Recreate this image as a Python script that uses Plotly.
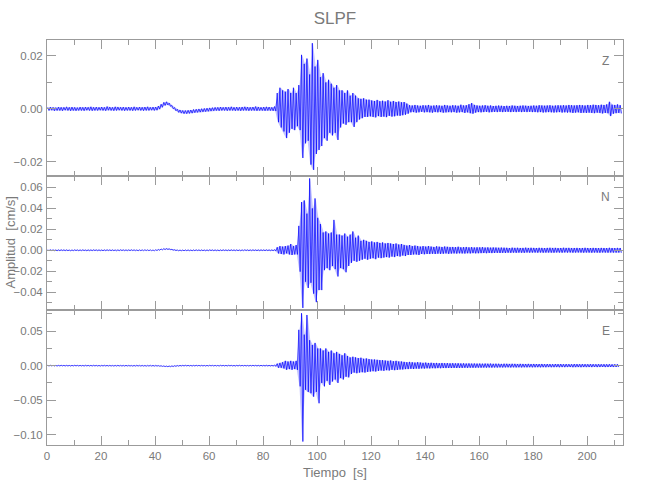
import plotly.graph_objects as go
from plotly.subplots import make_subplots

# Amplitudes are stored in units of 1e-3 cm/s, one max/min pair per 1-s bin
SCALE = 1e-3
title_text = "SLPF"
components = ["Z", "N", "E"]

z_upper = [
    0.6, 0.7, 0.6, 0.5, 0.7, 0.6, 0.6, 0.8, 0.6, 0.7,
    0.6, 0.5, 0.7, 0.6, 0.7, 0.6, 0.8, 0.6, 0.7, 0.6,
    0.7, 0.6, 0.9, 0.7, 0.6, 0.8, 0.7, 0.6, 0.7, 0.6,
    0.7, 0.6, 0.8, 0.6, 0.7, 0.6, 0.7, 0.8, 0.6, 0.7,
    0.7, 1.1, 1.8, 2.5, 2.7, 2.2, 1.3, 0.5, -0.1, -0.4,
    -0.6, -0.6, -0.5, -0.4, -0.2, -0.1, 0.0, 0.1, 0.2, 0.3,
    0.4, 0.5, 0.6, 0.6, 0.7, 0.6, 0.7, 0.6, 0.8, 0.6,
    0.7, 0.6, 0.7, 0.8, 0.7, 0.6, 0.7, 0.9, 0.7, 0.6,
    0.7, 0.8, 0.7, 0.6, 0.9, 6.0, 8.0, 7.0, 6.5, 7.5,
    6.0, 8.0, 6.0, 9.0, 20.4, 17.0, 19.0, 13.0, 24.8, 16.0,
    18.5, 12.0, 13.5, 10.0, 11.0, 9.5, 8.0, 9.0, 7.0, 7.0,
    6.0, 7.0, 5.0, 6.0, 5.0, 4.0, 3.8, 4.0, 3.5, 3.5,
    3.2, 3.0, 3.4, 2.9, 3.1, 2.8, 3.3, 2.7, 3.0, 2.6,
    2.8, 2.5, 2.6, 2.0, 1.4, 1.3, 1.5, 1.3, 1.2, 1.4,
    1.3, 1.5, 1.2, 1.3, 1.4, 1.3, 1.2, 1.5, 1.3, 1.2,
    1.4, 1.3, 1.2, 1.6, 1.3, 1.4, 1.8, 2.2, 1.5, 1.3,
    1.2, 1.3, 1.4, 1.2, 1.3, 1.1, 1.2, 1.3, 1.2, 1.1,
    1.2, 1.1, 1.3, 1.2, 1.1, 1.2, 1.3, 1.2, 1.1, 1.2,
    1.3, 1.2, 1.4, 1.3, 1.2, 1.3, 1.4, 1.2, 1.3, 1.4,
    1.3, 1.4, 1.3, 1.5, 1.4, 1.3, 1.4, 1.5, 1.4, 1.3,
    1.5, 1.4, 1.6, 1.5, 1.4, 1.6, 1.5, 1.7, 2.7, 1.6,
    1.5, 1.7, 1.4,
]
z_lower = [
    -0.6, -0.5, -0.7, -0.6, -0.6, -0.7, -0.5, -0.6, -0.7, -0.6,
    -0.7, -0.6, -0.6, -0.7, -0.5, -0.6, -0.7, -0.6, -0.6, -0.5,
    -0.6, -0.7, -0.5, -0.6, -0.7, -0.6, -0.5, -0.6, -0.7, -0.6,
    -0.6, -0.7, -0.6, -0.5, -0.6, -0.7, -0.6, -0.6, -0.5, -0.6,
    -0.5, -0.1, 0.6, 1.3, 1.5, 1.0, 0.1, -0.7, -1.3, -1.6,
    -1.8, -1.8, -1.7, -1.6, -1.4, -1.3, -1.2, -1.1, -1.0, -0.9,
    -0.8, -0.7, -0.6, -0.7, -0.6, -0.6, -0.7, -0.6, -0.6, -0.7,
    -0.6, -0.7, -0.6, -0.6, -0.7, -0.6, -0.6, -0.7, -0.6, -0.6,
    -0.7, -0.6, -0.6, -0.7, -0.8, -5.0, -7.0, -8.5, -11.0, -9.0,
    -7.5, -8.0, -6.5, -8.0, -18.5, -13.0, -12.0, -21.0, -23.0, -17.0,
    -15.5, -14.0, -11.0, -12.0, -9.0, -10.0, -9.0, -11.7, -7.0, -5.5,
    -6.0, -5.0, -5.0, -6.8, -5.0, -4.0, -3.5, -3.0, -3.0, -2.8,
    -3.0, -3.2, -2.7, -3.0, -2.9, -3.1, -2.6, -2.9, -2.8, -2.5,
    -2.6, -2.4, -2.2, -1.8, -1.3, -1.2, -1.4, -1.3, -1.1, -1.3,
    -1.2, -1.3, -1.4, -1.2, -1.3, -1.2, -1.4, -1.3, -1.2, -1.3,
    -1.2, -1.4, -1.3, -1.2, -1.5, -1.3, -1.6, -1.8, -1.4, -1.2,
    -1.3, -1.2, -1.1, -1.3, -1.2, -1.1, -1.2, -1.1, -1.2, -1.1,
    -1.1, -1.2, -1.1, -1.2, -1.1, -1.2, -1.1, -1.2, -1.1, -1.2,
    -1.2, -1.3, -1.2, -1.4, -1.3, -1.2, -1.3, -1.4, -1.3, -1.2,
    -1.4, -1.3, -1.4, -1.3, -1.5, -1.4, -1.3, -1.5, -1.4, -1.5,
    -1.4, -1.5, -1.6, -1.4, -1.5, -1.7, -1.5, -1.6, -2.7, -1.8,
    -1.6, -1.5, -1.7,
]

n_upper = [
    0.4, 0.5, 0.4, 0.3, 0.4, 0.5, 0.4, 0.4, 0.3, 0.4,
    0.5, 0.4, 0.4, 0.5, 0.3, 0.4, 0.4, 0.5, 0.4, 0.4,
    0.3, 0.4, 0.5, 0.4, 0.4, 0.3, 0.4, 0.5, 0.4, 0.4,
    0.4, 0.5, 0.4, 0.3, 0.4, 0.4, 0.5, 0.4, 0.4, 0.3,
    0.5, 0.8, 1.3, 1.6, 1.7, 1.4, 0.9, 0.5, 0.3, 0.3,
    0.3, 0.4, 0.4, 0.3, 0.4, 0.5, 0.4, 0.4, 0.3, 0.4,
    0.5, 0.4, 0.4, 0.3, 0.4, 0.5, 0.4, 0.4, 0.5, 0.4,
    0.4, 0.3, 0.4, 0.5, 0.4, 0.4, 0.5, 0.4, 0.4, 0.5,
    0.4, 0.5, 0.4, 0.4, 0.6, 3.0, 4.0, 3.5, 4.0, 4.5,
    6.0, 4.0, 5.0, 23.3, 46.0, 47.6, 35.0, 68.6, 40.0, 49.5,
    31.0, 25.0, 17.0, 18.0, 16.0, 17.0, 29.0, 15.0, 15.0, 14.0,
    16.0, 13.0, 15.0, 18.0, 12.0, 14.0, 9.0, 10.0, 9.0, 8.0,
    8.5, 7.5, 8.0, 7.0, 7.5, 6.5, 7.0, 6.5, 6.0, 6.5,
    5.5, 6.0, 5.0, 4.5, 5.0, 4.0, 4.5, 4.0, 3.5, 4.0,
    3.5, 4.0, 3.5, 3.2, 3.8, 3.4, 3.2, 3.6, 3.3, 3.0,
    3.2, 3.0, 3.4, 2.8, 3.0, 3.2, 2.8, 3.0, 2.7, 2.9,
    2.8, 3.0, 2.6, 2.8, 2.5, 2.7, 2.6, 2.4, 2.6, 2.5,
    2.4, 2.2, 2.5, 2.3, 2.4, 2.2, 2.3, 2.5, 2.2, 2.4,
    2.3, 2.2, 2.4, 2.3, 2.1, 2.3, 2.4, 2.2, 2.3, 2.1,
    2.2, 2.4, 2.2, 2.3, 2.1, 2.2, 2.3, 2.1, 2.2, 2.4,
    2.2, 2.1, 2.3, 2.2, 2.1, 2.3, 2.2, 2.1, 2.4, 2.2,
    2.1, 2.3, 2.2,
]
n_lower = [
    -0.4, -0.3, -0.4, -0.5, -0.4, -0.3, -0.4, -0.4, -0.5, -0.4,
    -0.3, -0.4, -0.4, -0.3, -0.5, -0.4, -0.4, -0.3, -0.4, -0.4,
    -0.5, -0.4, -0.3, -0.4, -0.4, -0.5, -0.4, -0.3, -0.4, -0.4,
    -0.4, -0.3, -0.4, -0.5, -0.4, -0.4, -0.3, -0.4, -0.4, -0.5,
    -0.3, 0.0, 0.4, 0.7, 0.8, 0.6, 0.1, -0.3, -0.5, -0.5,
    -0.5, -0.4, -0.4, -0.5, -0.4, -0.3, -0.4, -0.4, -0.5, -0.4,
    -0.3, -0.4, -0.4, -0.5, -0.4, -0.3, -0.4, -0.4, -0.3, -0.4,
    -0.4, -0.5, -0.4, -0.3, -0.4, -0.4, -0.3, -0.4, -0.4, -0.3,
    -0.4, -0.3, -0.4, -0.4, -0.6, -3.0, -3.5, -4.0, -3.0, -4.0,
    -4.5, -4.0, -4.0, -20.4, -55.0, -30.0, -36.0, -31.0, -41.4, -49.5,
    -38.0, -38.0, -19.0, -17.0, -19.0, -15.0, -18.0, -25.0, -17.0, -18.0,
    -21.0, -15.0, -12.0, -10.0, -11.0, -10.0, -9.0, -8.0, -9.0, -8.0,
    -7.5, -8.5, -7.0, -7.5, -7.0, -6.5, -7.0, -6.0, -6.5, -5.5,
    -6.0, -5.0, -5.5, -4.5, -4.5, -4.0, -4.0, -4.5, -3.5, -3.8,
    -3.5, -3.6, -3.3, -3.5, -3.2, -3.4, -3.3, -3.0, -3.4, -3.1,
    -3.0, -3.2, -2.9, -3.0, -3.1, -2.8, -3.0, -2.7, -2.9, -2.8,
    -2.7, -2.6, -2.8, -2.5, -2.7, -2.5, -2.4, -2.6, -2.4, -2.5,
    -2.3, -2.4, -2.2, -2.4, -2.2, -2.3, -2.4, -2.1, -2.3, -2.2,
    -2.2, -2.3, -2.1, -2.3, -2.2, -2.1, -2.2, -2.3, -2.1, -2.2,
    -2.3, -2.1, -2.2, -2.1, -2.3, -2.2, -2.1, -2.2, -2.3, -2.1,
    -2.2, -2.3, -2.1, -2.2, -2.3, -2.1, -2.2, -2.3, -2.1, -2.2,
    -2.2, -2.1, -2.3,
]

e_upper = [
    0.5, 0.6, 0.5, 0.4, 0.5, 0.6, 0.5, 0.5, 0.4, 0.5,
    0.6, 0.5, 0.5, 0.4, 0.6, 0.5, 0.5, 0.6, 0.5, 0.4,
    0.5, 0.6, 0.5, 0.5, 0.4, 0.5, 0.6, 0.5, 0.5, 0.6,
    0.5, 0.4, 0.5, 0.6, 0.5, 0.5, 0.4, 0.5, 0.6, 0.5,
    0.5, 0.3, 0.0, -0.3, -0.5, -0.5, -0.3, 0.0, 0.3, 0.5,
    0.5, 0.6, 0.5, 0.4, 0.5, 0.6, 0.5, 0.5, 0.4, 0.5,
    0.6, 0.5, 0.5, 0.4, 0.6, 0.5, 0.5, 0.6, 0.5, 0.4,
    0.5, 0.6, 0.5, 0.5, 0.4, 0.5, 0.6, 0.5, 0.5, 0.6,
    0.5, 0.6, 0.5, 0.5, 0.8, 3.0, 4.0, 5.0, 7.0, 6.0,
    7.0, 6.0, 7.0, 52.0, 76.0, 45.0, 73.5, 37.0, 30.0, 33.0,
    25.0, 25.0, 22.0, 25.0, 20.0, 22.0, 18.0, 20.0, 17.0, 15.0,
    18.0, 14.0, 12.0, 13.0, 12.0, 11.0, 11.5, 10.0, 10.5, 9.5,
    9.0, 9.0, 8.5, 8.0, 8.0, 7.5, 7.0, 7.5, 6.5, 7.0,
    6.0, 6.0, 5.5, 5.0, 5.5, 5.0, 4.5, 5.0, 4.5, 4.0,
    4.5, 4.0, 4.2, 3.8, 4.0, 3.6, 3.9, 3.5, 3.7, 3.4,
    3.6, 3.3, 3.5, 3.2, 3.4, 3.1, 3.3, 3.0, 3.2, 3.0,
    3.1, 2.9, 3.0, 2.8, 3.0, 2.7, 2.9, 2.8, 2.6, 2.8,
    2.7, 2.5, 2.7, 2.6, 2.4, 2.6, 2.5, 2.4, 2.6, 2.3,
    2.5, 2.4, 2.3, 2.5, 2.2, 2.4, 2.3, 2.2, 2.4, 2.2,
    2.3, 2.1, 2.3, 2.2, 2.1, 2.3, 2.2, 2.0, 2.2, 2.1,
    2.0, 2.2, 2.1, 2.0, 2.2, 2.0, 2.1, 2.0, 2.1, 1.9,
    2.0, 2.0,
]
e_lower = [
    -0.5, -0.4, -0.5, -0.6, -0.5, -0.4, -0.5, -0.5, -0.6, -0.5,
    -0.4, -0.5, -0.5, -0.6, -0.4, -0.5, -0.5, -0.4, -0.5, -0.6,
    -0.5, -0.4, -0.5, -0.5, -0.6, -0.5, -0.4, -0.5, -0.5, -0.4,
    -0.5, -0.6, -0.5, -0.4, -0.5, -0.5, -0.6, -0.5, -0.4, -0.5,
    -0.5, -0.7, -1.0, -1.3, -1.5, -1.5, -1.3, -1.0, -0.7, -0.5,
    -0.5, -0.4, -0.5, -0.6, -0.5, -0.4, -0.5, -0.5, -0.6, -0.5,
    -0.4, -0.5, -0.5, -0.6, -0.4, -0.5, -0.5, -0.4, -0.5, -0.6,
    -0.5, -0.4, -0.5, -0.5, -0.6, -0.5, -0.4, -0.5, -0.5, -0.4,
    -0.5, -0.4, -0.5, -0.5, -0.8, -3.0, -3.0, -4.0, -6.0, -5.0,
    -6.0, -5.0, -6.0, -30.0, -110.0, -35.0, -38.0, -40.0, -45.0, -38.0,
    -54.5, -25.0, -30.0, -22.0, -28.0, -23.0, -20.0, -25.0, -18.0, -20.0,
    -16.0, -17.0, -12.0, -10.0, -11.0, -10.0, -9.5, -10.0, -9.0, -8.5,
    -8.0, -8.5, -7.5, -7.0, -7.5, -6.5, -7.0, -6.0, -6.5, -6.0,
    -5.5, -5.5, -5.0, -5.0, -4.5, -4.8, -4.2, -4.5, -4.0, -4.2,
    -3.8, -4.0, -3.6, -3.8, -3.5, -3.7, -3.4, -3.5, -3.3, -3.4,
    -3.2, -3.3, -3.1, -3.2, -3.0, -3.1, -2.9, -3.0, -2.9, -2.8,
    -2.9, -2.7, -2.8, -2.6, -2.8, -2.6, -2.7, -2.5, -2.6, -2.5,
    -2.4, -2.6, -2.4, -2.5, -2.3, -2.5, -2.3, -2.4, -2.2, -2.4,
    -2.3, -2.2, -2.4, -2.2, -2.3, -2.1, -2.3, -2.2, -2.1, -2.3,
    -2.1, -2.2, -2.1, -2.0, -2.2, -2.1, -2.0, -2.2, -2.0, -2.1,
    -2.0, -2.1, -1.9, -2.1, -2.0, -1.9, -2.1, -2.0, -1.9, -2.0,
    -1.9, -2.0,
]

y_ranges = [(-0.0253, 0.026), (-0.057, 0.0709), (-0.115, 0.0807)]
y_dticks = [0.02, 0.02, 0.05]
y_minor = [0.01, 0.01, 0.025]
x_range = (0, 213.3)

GRAY = "#9b9b9b"
TXT = "#7a7a7a"
FONT = "Liberation Sans, Arial, sans-serif"


def zigzag(upper, lower):
    t, v = [], []
    for i, (u, l) in enumerate(zip(upper, lower)):
        t += [i + 0.25, i + 0.75]
        v += [u * SCALE, l * SCALE]
    return t, v


fig = make_subplots(rows=3, cols=1, shared_xaxes=True, vertical_spacing=0)
series = [(z_upper, z_lower), (n_upper, n_lower), (e_upper, e_lower)]
for r, (up, lo) in enumerate(series, start=1):
    tb = [i + 0.5 for i in range(len(up))]
    fig.add_trace(go.Scatter(x=tb, y=[u * SCALE for u in up], mode="lines",
                             line=dict(width=0, color="rgba(0,0,255,0)"),
                             showlegend=False, hoverinfo="skip"), row=r, col=1)
    fig.add_trace(go.Scatter(x=tb, y=[l * SCALE for l in lo], mode="lines",
                             line=dict(width=0, color="rgba(0,0,255,0)"),
                             fill="tonexty", fillcolor="rgba(40,40,255,0.28)",
                             showlegend=False, hoverinfo="skip"), row=r, col=1)
    t, v = zigzag(up, lo)
    fig.add_trace(go.Scatter(x=t, y=v, mode="lines",
                             line=dict(color="#0000ff", width=0.7),
                             showlegend=False, hoverinfo="skip"), row=r, col=1)

domains = [(0.6642, 1.0), (0.3333, 0.6642), (0.0, 0.3333)]
for r in range(1, 4):
    fig.update_xaxes(range=list(x_range), dtick=20, tick0=0, automargin=False,
                     showline=True, linecolor=GRAY, linewidth=1, mirror="ticks",
                     ticks="inside", ticklen=9, tickcolor=GRAY, tickwidth=1,
                     minor=dict(ticks="inside", ticklen=5, tickcolor=GRAY, dtick=10, showgrid=False),
                     showgrid=False, zeroline=False,
                     showticklabels=(r == 3),
                     tickfont=dict(family=FONT, size=11.5, color=TXT),
                     row=r, col=1)
    fig.update_yaxes(range=list(y_ranges[r - 1]), dtick=y_dticks[r - 1], tick0=0,
                     tickformat=".2f", domain=list(domains[r - 1]), automargin=False,
                     showline=True, linecolor=GRAY, linewidth=1, mirror="ticks",
                     ticks="inside", ticklen=9, tickcolor=GRAY, tickwidth=1,
                     minor=dict(ticks="inside", ticklen=5, tickcolor=GRAY,
                                dtick=y_minor[r - 1], showgrid=False),
                     showgrid=False, zeroline=False, ticklabelstandoff=1,
                     tickfont=dict(family=FONT, size=11.5, color=TXT),
                     row=r, col=1)

annotations = []
for r, comp in enumerate(components, start=1):
    yref = "y domain" if r == 1 else f"y{r} domain"
    annotations.append(dict(text=comp, xref="paper", yref=yref, x=0.97, y=1, yshift=-21,
                            xanchor="center", yanchor="middle", showarrow=False,
                            font=dict(family=FONT, size=12, color=TXT)))
annotations.append(dict(text="Tiempo  [s]", xref="paper", yref="paper", x=0.5, y=0,
                        yshift=-27, xanchor="center", yanchor="middle", showarrow=False,
                        font=dict(family=FONT, size=13, color=TXT)))
annotations.append(dict(text="Amplitud  [cm/s]", xref="paper", yref="paper", x=0, y=0.5,
                        xshift=-37, xanchor="center", yanchor="middle", textangle=-90,
                        showarrow=False, font=dict(family=FONT, size=13, color=TXT)))

fig.update_layout(
    width=650, height=500,
    margin=dict(l=47, r=27, t=40, b=55),
    paper_bgcolor="white", plot_bgcolor="white",
    title=dict(text=title_text, x=0.5, xref="paper", y=1 - 18 / 500, yref="container",
               xanchor="center", yanchor="middle",
               font=dict(family=FONT, size=17, color=TXT)),
    annotations=annotations,
)

# remove the default 8 px page margin so the 650x500 figure fills the window exactly
fig.write_html("out.html", config={"displayModeBar": False},
               post_script="document.body.style.margin='0px';")
